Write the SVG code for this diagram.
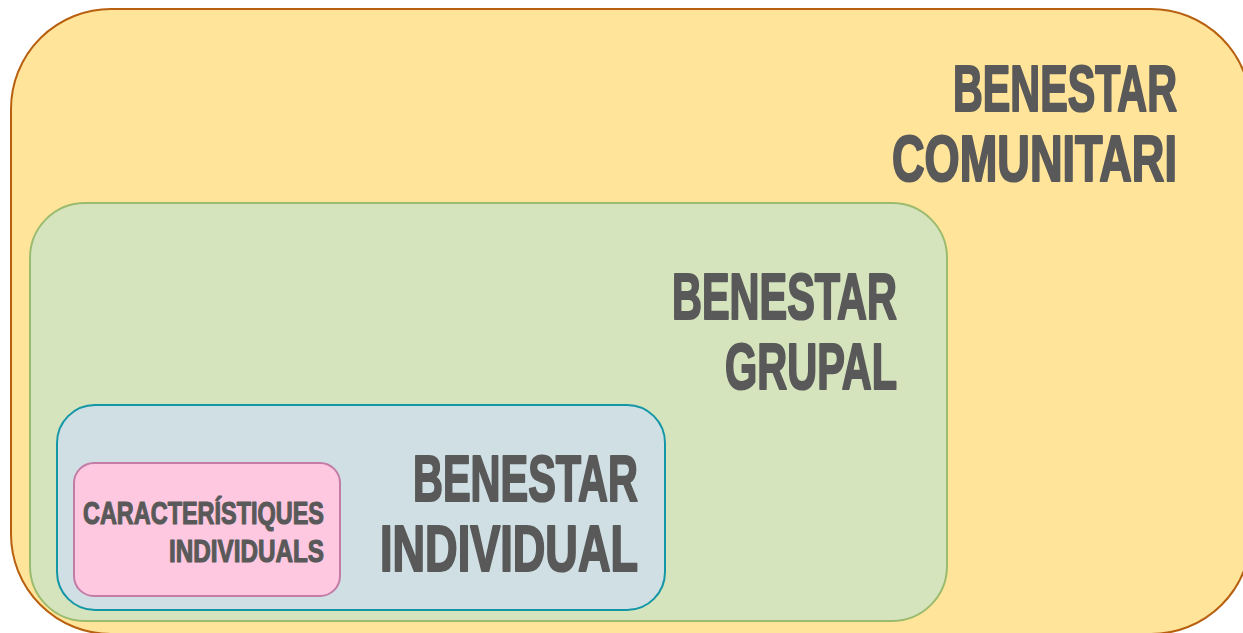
<svg xmlns="http://www.w3.org/2000/svg" width="1243" height="633" viewBox="0 0 1243 633">
<style>
.t{font-family:"Liberation Sans",Arial,sans-serif;font-weight:bold;fill:#595959;stroke:#595959;stroke-linejoin:round;text-anchor:end}
.big{font-size:65px;stroke-width:2.2px}
.small{font-size:31px;stroke-width:1.2px}
</style>
<rect width="1243" height="633" fill="#ffffff"/>
<g id="comunitari">
<rect x="11" y="9" width="1240" height="625" rx="100" ry="100" fill="#FFE499" stroke="#B8600F" stroke-width="2"/>
<text class="t big" x="1177" y="111" textLength="224" lengthAdjust="spacingAndGlyphs">BENESTAR</text>
<text class="t big" x="1177" y="181" textLength="285" lengthAdjust="spacingAndGlyphs">COMUNITARI</text>
</g>
<g id="grupal">
<rect x="30" y="203" width="917" height="418" rx="55" ry="55" fill="#D6E4BE" stroke="#9BBB6F" stroke-width="2"/>
<text class="t big" x="897" y="319" textLength="225" lengthAdjust="spacingAndGlyphs">BENESTAR</text>
<text class="t big" x="897" y="389" textLength="172" lengthAdjust="spacingAndGlyphs">GRUPAL</text>
</g>
<g id="individual">
<rect x="57" y="405" width="608" height="205" rx="38" ry="38" fill="#CFDFE3" stroke="#1396A6" stroke-width="2"/>
<text class="t big" x="638" y="501" textLength="225" lengthAdjust="spacingAndGlyphs">BENESTAR</text>
<text class="t big" x="638" y="571" textLength="258" lengthAdjust="spacingAndGlyphs">INDIVIDUAL</text>
</g>
<g id="caracteristiques">
<rect x="74" y="463" width="266" height="133" rx="20" ry="20" fill="#FEC8E0" stroke="#C47BA6" stroke-width="2"/>
<text class="t small" x="324" y="524" textLength="241" lengthAdjust="spacingAndGlyphs">CARACTERÍSTIQUES</text>
<text class="t small" x="324" y="562" textLength="155" lengthAdjust="spacingAndGlyphs">INDIVIDUALS</text>
</g>
<g id="connectors"></g>
</svg>
